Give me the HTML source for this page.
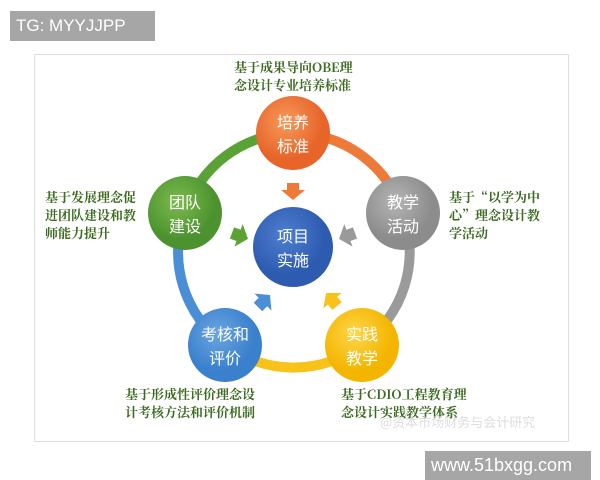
<!DOCTYPE html>
<html><head><meta charset="utf-8"><style>
body{margin:0;width:600px;height:480px;background:#fff;position:relative;overflow:hidden;font-family:"Liberation Sans","Noto Sans CJK SC",sans-serif}
.tag{position:absolute;background:#a6a6a6;color:#fff;font-size:17px;line-height:30px;padding-left:6px}
.frame{position:absolute;left:34px;top:54px;width:533px;height:386px;border:1px solid #ddd}
.t{position:absolute;color:#3d6b22;font-size:13px;font-weight:bold;line-height:18px;font-family:"Noto Serif CJK SC","Noto Sans CJK SC",serif}
</style></head><body>
<div class="tag" style="left:10px;top:11px;width:139px;height:30px">TG: MYYJJPP</div>
<div class="frame"></div>
<svg width="600" height="480" style="position:absolute;left:0;top:0">
<defs>
<radialGradient id="go" cx="40%" cy="35%"><stop offset="0" stop-color="#f59a5a"/><stop offset="1" stop-color="#e8652a"/></radialGradient>
<radialGradient id="gg" cx="40%" cy="35%"><stop offset="0" stop-color="#7cbb4c"/><stop offset="1" stop-color="#4c9330"/></radialGradient>
<radialGradient id="gy" cx="40%" cy="35%"><stop offset="0" stop-color="#b5b5b5"/><stop offset="1" stop-color="#8c8c8c"/></radialGradient>
<radialGradient id="gb" cx="40%" cy="35%"><stop offset="0" stop-color="#6aa5e0"/><stop offset="1" stop-color="#3a80cc"/></radialGradient>
<radialGradient id="gw" cx="40%" cy="35%"><stop offset="0" stop-color="#ffd54a"/><stop offset="1" stop-color="#f3b500"/></radialGradient>
<radialGradient id="gc" cx="40%" cy="35%"><stop offset="0" stop-color="#4f7fd0"/><stop offset="1" stop-color="#2d5bb0"/></radialGradient>
</defs>
<g fill="none" stroke-width="10">
<path d="M185,213 A115,115 0 0 1 293,133" stroke="#5aa136"/>
<path d="M293,133 A115,115 0 0 1 403,213" stroke="#ee7a3a"/>
<path d="M403,213 A115,115 0 0 1 362,345" stroke="#9a9a9a"/>
<path d="M362,345 A115,115 0 0 1 225,345" stroke="#f7c21a"/>
<path d="M225,345 A115,115 0 0 1 185,213" stroke="#4a8fd6"/>
</g>
<circle cx="293" cy="133" r="37" fill="url(#go)"/>
<circle cx="185" cy="213" r="37" fill="url(#gg)"/>
<circle cx="403" cy="213" r="37" fill="url(#gy)"/>
<circle cx="225" cy="345" r="37" fill="url(#gb)"/>
<circle cx="362" cy="345" r="37" fill="url(#gw)"/>
<circle cx="293" cy="247" r="40" fill="url(#gc)"/>
<polygon points="287,183 299,183 299,190 305,190 293,200 281,190 287,190" fill="#ee7a3a"/>
<polygon points="0,-6 0,6 7,6 7,12 17,0 7,-12 7,-6" fill="#5aa136" transform="translate(232,233) rotate(20)"/>
<polygon points="0,-6 0,6 7,6 7,12 17,0 7,-12 7,-6" fill="#9a9a9a" transform="translate(355,233) rotate(160)"/>
<polygon points="0,-6 0,6 7,6 7,12 17,0 7,-12 7,-6" fill="#4a8fd6" transform="translate(258,307) rotate(-45)"/>
<polygon points="0,-6 0,6 7,6 7,12 17,0 7,-12 7,-6" fill="#f7c21a" transform="translate(337,306) rotate(-130)"/>
<g fill="#fff" font-size="16" text-anchor="middle" font-family="Noto Sans CJK SC,sans-serif">
<text x="293" y="128">培养</text><text x="293" y="152">标准</text>
<text x="185" y="208">团队</text><text x="185" y="232">建设</text>
<text x="403" y="208">教学</text><text x="403" y="232">活动</text>
<text x="225" y="340">考核和</text><text x="225" y="364">评价</text>
<text x="362" y="340">实践</text><text x="362" y="364">教学</text>
<text x="293" y="242">项目</text><text x="293" y="266">实施</text>
</g>
</svg>
<div class="t" style="left:234px;top:58px">基于成果导向OBE理<br>念设计专业培养标准</div>
<div class="t" style="left:45px;top:188px">基于发展理念促<br>进团队建设和教<br>师能力提升</div>
<div class="t" style="left:449px;top:188px">基于“以学为中<br>心”理念设计教<br>学活动</div>
<div class="t" style="left:125px;top:385px">基于形成性评价理念设<br>计考核方法和评价机制</div>
<div class="t" style="left:341px;top:385px">基于CDIO工程教育理<br>念设计实践教学体系</div>
<div style="position:absolute;left:380px;top:412px;color:#ddd;font-size:13px;font-family:'Noto Sans CJK SC',sans-serif">@资本市场财务与会计研究</div>
<div class="tag" style="left:425px;top:451px;width:160px;height:29px;font-size:18px;line-height:29px">www.51bxgg.com</div>
</body></html>
